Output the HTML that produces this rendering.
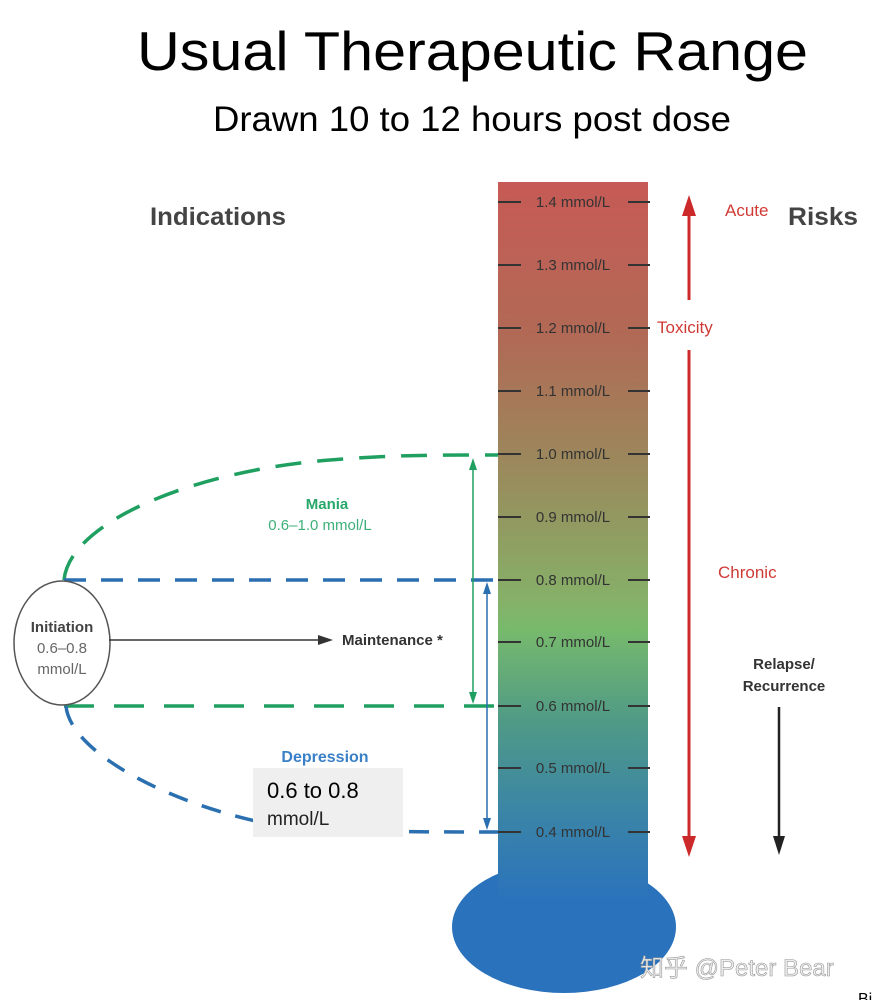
<!DOCTYPE html>
<html><head><meta charset="utf-8"><style>
body{margin:0;background:#fff;width:875px;height:1000px;overflow:hidden}
svg{display:block}
</style></head><body>
<svg width="875" height="1000" viewBox="0 0 875 1000" xmlns="http://www.w3.org/2000/svg" font-family="Liberation Sans, sans-serif">
<defs>
<linearGradient id="g" x1="0" y1="0" x2="0" y2="1">
<stop offset="0" stop-color="#c75a56"/>
<stop offset="0.22" stop-color="#b06a55"/>
<stop offset="0.4" stop-color="#9a8a5c"/>
<stop offset="0.58" stop-color="#86b068"/>
<stop offset="0.62" stop-color="#78ba6c"/>
<stop offset="0.75" stop-color="#4f9a86"/>
<stop offset="0.88" stop-color="#3a84a8"/>
<stop offset="1" stop-color="#2a72bc"/>
</linearGradient>
</defs>
<text x="137" y="70" font-size="55" textLength="671" lengthAdjust="spacingAndGlyphs" fill="#000">Usual Therapeutic Range</text>
<text x="213" y="131" font-size="35" textLength="518" lengthAdjust="spacingAndGlyphs" fill="#000">Drawn 10 to 12 hours post dose</text>

<ellipse cx="564" cy="927" rx="112" ry="66" fill="#2a72bc"/>
<rect x="498" y="182" width="150" height="720" fill="url(#g)"/>

<g stroke="#333" stroke-width="2">
<line x1="498" y1="202" x2="521" y2="202"/><line x1="628" y1="202" x2="650" y2="202"/>
<line x1="498" y1="265" x2="521" y2="265"/><line x1="628" y1="265" x2="650" y2="265"/>
<line x1="498" y1="328" x2="521" y2="328"/><line x1="628" y1="328" x2="650" y2="328"/>
<line x1="498" y1="391" x2="521" y2="391"/><line x1="628" y1="391" x2="650" y2="391"/>
<line x1="498" y1="454" x2="521" y2="454"/><line x1="628" y1="454" x2="650" y2="454"/>
<line x1="498" y1="517" x2="521" y2="517"/><line x1="628" y1="517" x2="650" y2="517"/>
<line x1="498" y1="580" x2="521" y2="580"/><line x1="628" y1="580" x2="650" y2="580"/>
<line x1="498" y1="642" x2="521" y2="642"/><line x1="628" y1="642" x2="650" y2="642"/>
<line x1="498" y1="706" x2="521" y2="706"/><line x1="628" y1="706" x2="650" y2="706"/>
<line x1="498" y1="768" x2="521" y2="768"/><line x1="628" y1="768" x2="650" y2="768"/>
<line x1="498" y1="832" x2="521" y2="832"/><line x1="628" y1="832" x2="650" y2="832"/>
</g>
<g font-size="15" fill="#333" text-anchor="middle">
<text x="573" y="207">1.4 mmol/L</text><text x="573" y="270">1.3 mmol/L</text>
<text x="573" y="333">1.2 mmol/L</text><text x="573" y="396">1.1 mmol/L</text>
<text x="573" y="459">1.0 mmol/L</text><text x="573" y="522">0.9 mmol/L</text>
<text x="573" y="585">0.8 mmol/L</text><text x="573" y="647">0.7 mmol/L</text>
<text x="573" y="711">0.6 mmol/L</text><text x="573" y="773">0.5 mmol/L</text>
<text x="573" y="837">0.4 mmol/L</text>
</g>

<text x="150" y="225" font-size="25" font-weight="bold" textLength="136" lengthAdjust="spacingAndGlyphs" fill="#444">Indications</text>
<text x="788" y="225" font-size="25" font-weight="bold" textLength="70" lengthAdjust="spacingAndGlyphs" fill="#444">Risks</text>
<text x="725" y="216" font-size="17" fill="#d03a35">Acute</text>
<text x="657" y="333" font-size="17" fill="#d03a35">Toxicity</text>
<text x="718" y="578" font-size="17" fill="#d03a35">Chronic</text>
<g stroke="#cc2a2a" stroke-width="3">
<line x1="689" y1="210" x2="689" y2="300"/>
<line x1="689" y1="350" x2="689" y2="842"/>
</g>
<polygon points="689,195 682,216 696,216" fill="#cc2a2a"/>
<polygon points="689,857 682,836 696,836" fill="#cc2a2a"/>
<text x="784" y="669" font-size="15" font-weight="bold" fill="#333" text-anchor="middle">Relapse/</text>
<text x="784" y="691" font-size="15" font-weight="bold" fill="#333" text-anchor="middle">Recurrence</text>
<line x1="779" y1="707" x2="779" y2="842" stroke="#222" stroke-width="2.5"/>
<polygon points="779,855 773,836 785,836" fill="#222"/>

<path d="M64,580 C70,520 200,470 330,460 C390,455 430,455 498,455" fill="none" stroke="#1fa060" stroke-width="3.5" stroke-dasharray="26,16"/>
<line x1="64" y1="706" x2="498" y2="706" stroke="#1fa060" stroke-width="3.5" stroke-dasharray="30,20"/>
<line x1="64" y1="580" x2="498" y2="580" stroke="#2a6fb0" stroke-width="3.5" stroke-dasharray="22,15"/>
<path d="M66,706 C70,750 160,800 260,822 C330,832 400,832 498,832" fill="none" stroke="#2a6fb0" stroke-width="3.5" stroke-dasharray="20,15"/>

<line x1="473" y1="462" x2="473" y2="700" stroke="#1fa060" stroke-width="1.5"/>
<polygon points="473,458 469,470 477,470" fill="#1fa060"/>
<polygon points="473,704 469,692 477,692" fill="#1fa060"/>
<line x1="487" y1="586" x2="487" y2="826" stroke="#2a6fb0" stroke-width="1.5"/>
<polygon points="487,582 483,594 491,594" fill="#2a6fb0"/>
<polygon points="487,830 483,818 491,818" fill="#2a6fb0"/>

<text x="327" y="509" font-size="15" font-weight="bold" fill="#27a86a" text-anchor="middle">Mania</text>
<text x="320" y="530" font-size="15" fill="#3db07a" text-anchor="middle">0.6–1.0 mmol/L</text>
<text x="325" y="762" font-size="16" font-weight="bold" fill="#3a80c8" text-anchor="middle">Depression</text>

<ellipse cx="62" cy="643" rx="48" ry="62" fill="#fff" stroke="#555" stroke-width="1.5"/>
<text x="62" y="632" font-size="15" font-weight="bold" fill="#444" text-anchor="middle">Initiation</text>
<text x="62" y="653" font-size="15" fill="#666" text-anchor="middle">0.6–0.8</text>
<text x="62" y="674" font-size="15" fill="#666" text-anchor="middle">mmol/L</text>
<line x1="109" y1="640" x2="320" y2="640" stroke="#333" stroke-width="1.5"/>
<polygon points="333,640 318,635 318,645" fill="#333"/>
<text x="342" y="645" font-size="15" font-weight="bold" fill="#333">Maintenance *</text>

<rect x="253" y="768" width="150" height="69" fill="#efefef"/>
<text x="267" y="798" font-size="22" fill="#000">0.6 to 0.8</text>
<text x="267" y="825" font-size="19" fill="#222">mmol/L</text>

<text x="640" y="976" font-size="24" fill="#eee" stroke="#999" stroke-width="0.6" font-family="Liberation Sans, Noto Sans CJK SC, sans-serif">知乎 @Peter Bear</text>
<text x="858" y="1004" font-size="16" fill="#000">Bi</text>
</svg>
</body></html>
